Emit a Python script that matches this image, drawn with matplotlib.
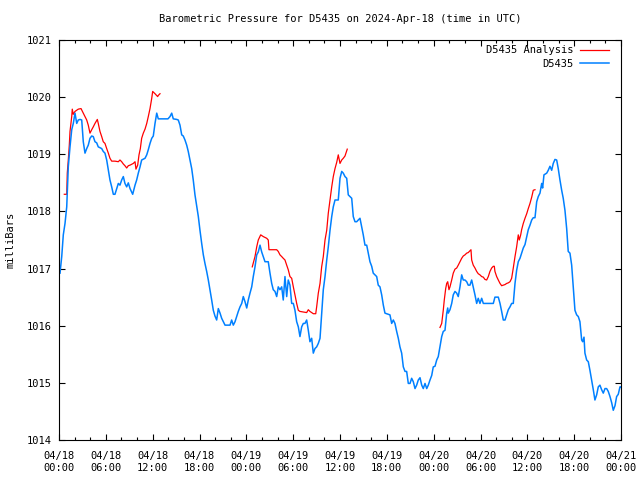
import numpy as np
import matplotlib
matplotlib.use("Agg")
from matplotlib import pyplot as plt
import matplotlib.dates as mdates

plt.rcParams['font.family'] = ['DejaVu Sans Mono']
plt.rcParams['font.size'] = 7.5

start = np.datetime64('2024-04-18T00:00')

# station observations, hours since start
obs_hours = [0.13, 0.35, 0.55, 0.77, 0.99, 1.19, 1.41, 1.63, 1.83, 2.05, 2.27, 2.47, 2.69, 2.91, 3.11, 3.33, 3.55,
             3.75, 3.97, 4.19, 4.39, 4.61, 4.83, 5.03, 5.47, 5.67, 5.89, 6.11, 6.32, 6.53, 6.75, 6.96, 7.17, 7.39,
             7.60, 7.81, 8.03, 8.24, 8.45, 8.67, 8.88, 9.10, 9.31, 9.44, 9.74, 9.95, 10.16, 10.38, 10.59, 11.02,
             11.24, 11.44, 11.66, 11.88, 12.08, 12.30, 12.52, 12.72, 13.20, 13.96, 14.22, 14.44, 14.64, 15.08,
             15.28, 15.50, 15.72, 15.92, 16.14, 16.36, 16.56, 16.78, 17.00, 17.20,
             17.42, 17.85, 18.06, 18.28, 18.49, 18.70, 18.92, 19.13, 19.34, 19.56, 19.77, 19.98, 20.20, 20.41,
             20.63, 20.84, 21.27, 21.91, 22.12, 22.33, 22.55, 22.76, 22.97, 23.19, 23.41, 23.61, 23.83, 24.05,
             24.25, 24.47, 24.69, 24.89, 25.11, 25.33, 25.53, 25.75, 25.97, 26.17, 26.39, 26.61, 26.81, 27.03,
             27.25, 27.45, 27.67, 27.89, 28.09, 28.31, 28.53, 28.73, 28.95, 29.17, 29.37, 29.59, 29.81, 30.02,
             30.23, 30.45, 30.66, 30.87, 31.09, 31.30, 31.51, 31.73, 31.94, 32.15, 32.37, 32.58, 32.79, 33.01,
             33.22, 33.44, 33.65, 33.86, 34.08, 34.30, 34.50, 34.72, 34.94, 35.14,
             35.36, 35.78, 36.00, 36.22, 36.42, 36.64, 36.86, 37.06, 37.28, 37.50, 37.70, 37.92, 38.14, 38.34,
             38.56, 38.78, 38.98, 39.20, 39.42, 39.62, 39.84, 40.06, 40.26, 40.48, 40.70, 40.90, 41.12, 41.34,
             41.55, 41.76, 41.98, 42.19, 42.40, 42.62, 42.83, 43.04, 43.26, 43.47,
             43.68, 43.90, 44.11, 44.33, 44.54, 44.75, 44.97, 45.18, 45.39, 45.61, 45.82, 46.03, 46.25, 46.47,
             46.67, 46.89, 47.11, 47.31, 47.53, 47.75, 47.95, 48.17, 48.39, 48.59, 48.81, 49.03, 49.23, 49.45,
             49.67, 49.80, 49.87, 50.09, 50.31, 50.51, 50.73, 50.95, 51.15, 51.37, 51.59, 51.79, 52.01, 52.23,
             52.43, 52.65, 52.87, 53.07, 53.29, 53.51, 53.71, 53.93, 54.15, 54.36, 55.64, 55.85, 56.28, 56.50,
             56.71, 56.92, 57.14, 57.35, 57.56, 57.78, 57.99, 58.20, 58.42, 58.63, 58.84, 59.06, 59.27, 59.48,
             59.70, 59.92, 60.12, 60.34, 60.56, 60.76, 60.98, 61.20, 61.40, 61.62, 61.84, 61.96, 62.13, 62.48,
             62.68, 62.90, 63.12, 63.32, 63.54, 63.76, 63.96, 64.18, 64.40, 64.60, 64.82, 65.04, 65.24, 65.46,
             65.68, 65.88, 66.10, 66.32, 66.53, 66.74, 66.96, 67.09, 67.26, 67.38, 67.60, 67.81, 68.02, 68.24,
             68.45, 68.66, 68.88, 69.09, 69.30, 69.52, 69.73, 69.95, 70.16, 70.37, 70.59, 70.81, 71.01, 71.23,
             71.44, 71.65, 71.87, 71.96]
obs_mb = [1016.92, 1017.21, 1017.59, 1017.79, 1018.08, 1018.78, 1019.13, 1019.43, 1019.54, 1019.72, 1019.54, 1019.6,
          1019.61, 1019.6, 1019.22, 1019.02, 1019.1, 1019.16, 1019.28, 1019.32, 1019.31, 1019.22, 1019.2, 1019.13,
          1019.1, 1019.05, 1019.02, 1018.9, 1018.72, 1018.55, 1018.43, 1018.3, 1018.3, 1018.4, 1018.49, 1018.46,
          1018.55, 1018.61, 1018.49, 1018.43, 1018.5, 1018.4, 1018.34, 1018.3, 1018.46, 1018.55, 1018.67, 1018.78,
          1018.9, 1018.93, 1018.99, 1019.08, 1019.19, 1019.28, 1019.32, 1019.54, 1019.72, 1019.62, 1019.62, 1019.62,
          1019.66, 1019.72, 1019.62, 1019.61, 1019.6, 1019.51, 1019.34, 1019.32, 1019.25, 1019.16, 1019.05, 1018.9,
          1018.75, 1018.55,
          1018.29, 1017.91, 1017.67, 1017.44, 1017.24, 1017.09, 1016.95, 1016.8, 1016.63, 1016.45, 1016.27, 1016.17,
          1016.1, 1016.3, 1016.22, 1016.13, 1016.01, 1016.01, 1016.1, 1016.01, 1016.07, 1016.16, 1016.25, 1016.33,
          1016.39, 1016.51, 1016.42, 1016.31, 1016.45, 1016.57, 1016.68, 1016.86, 1017.03, 1017.24, 1017.29, 1017.41,
          1017.29, 1017.21, 1017.12, 1017.12, 1017.12, 1016.92, 1016.74, 1016.63, 1016.6, 1016.51, 1016.68, 1016.63,
          1016.68, 1016.45, 1016.86, 1016.51, 1016.8, 1016.71, 1016.39, 1016.39, 1016.27, 1016.07, 1015.98, 1015.81,
          1015.98, 1016.04, 1016.04, 1016.1, 1015.92, 1015.72, 1015.78, 1015.52, 1015.6, 1015.63, 1015.69, 1015.78,
          1016.22, 1016.63, 1016.86, 1017.15, 1017.38, 1017.67, 1017.91, 1018.08,
          1018.2, 1018.2, 1018.58, 1018.7, 1018.67, 1018.61, 1018.58, 1018.29, 1018.26, 1018.23, 1017.91, 1017.82,
          1017.82, 1017.85, 1017.88, 1017.73, 1017.59, 1017.41, 1017.41, 1017.27, 1017.12, 1017.04, 1016.92, 1016.89,
          1016.86, 1016.71, 1016.68, 1016.54, 1016.36, 1016.22, 1016.21, 1016.2, 1016.19, 1016.04, 1016.1, 1016.04,
          1015.9, 1015.78,
          1015.63, 1015.52, 1015.28, 1015.2, 1015.2, 1014.99, 1014.99, 1015.08, 1015.02, 1014.9, 1014.96, 1015.05,
          1015.09, 1014.96, 1014.9, 1014.99, 1014.9, 1014.96, 1015.05, 1015.13, 1015.28, 1015.29, 1015.4, 1015.46,
          1015.63, 1015.81, 1015.9, 1015.92, 1016.22, 1016.31, 1016.22, 1016.28, 1016.39, 1016.54, 1016.6, 1016.57,
          1016.51, 1016.68, 1016.89, 1016.8, 1016.8, 1016.77, 1016.71, 1016.71, 1016.8, 1016.68, 1016.54, 1016.39,
          1016.48, 1016.39, 1016.48, 1016.39, 1016.39, 1016.5, 1016.5, 1016.39, 1016.25, 1016.1, 1016.1, 1016.19,
          1016.28, 1016.33, 1016.39, 1016.39, 1016.74, 1016.97, 1017.12, 1017.18, 1017.27, 1017.36, 1017.42,
          1017.56, 1017.68, 1017.76, 1017.85, 1017.89, 1017.89, 1018.17, 1018.26, 1018.32, 1018.49, 1018.41,
          1018.64, 1018.67, 1018.72, 1018.79, 1018.72, 1018.84, 1018.91, 1018.9, 1018.75, 1018.55, 1018.37,
          1018.23, 1018.02, 1017.7, 1017.3, 1017.27, 1017.06, 1016.68, 1016.27, 1016.19, 1016.16, 1016.07,
          1015.75, 1015.72, 1015.8, 1015.52, 1015.4, 1015.37, 1015.22, 1015.05, 1014.88, 1014.7, 1014.79,
          1014.93, 1014.96, 1014.88, 1014.82, 1014.9, 1014.9, 1014.85, 1014.76, 1014.65, 1014.52, 1014.6,
          1014.76, 1014.8, 1014.93, 1014.93]

# analysis runs (three separate pieces)
ana1_hours = [0.68, 0.99, 1.06, 1.19, 1.32, 1.41, 1.63, 1.70, 1.83, 2.05, 2.47, 2.82, 3.11, 3.33, 3.55, 3.75, 3.97,
              4.19, 4.39, 4.61, 4.91, 5.03, 5.25, 5.47, 5.67, 5.89, 6.11, 6.32, 6.53, 6.75, 7.17, 7.60, 7.81, 8.03,
              8.24, 8.45, 8.67, 8.88, 9.10, 9.52, 9.74, 9.86, 10.08, 10.25, 10.42, 10.59, 10.80, 11.02, 11.24,
              11.44, 11.66, 11.88, 12.00, 12.30, 12.64, 12.72, 12.94]
ana1_mb = [1018.3, 1018.3, 1018.67, 1018.9, 1019.16, 1019.4, 1019.66, 1019.79, 1019.7, 1019.75, 1019.79, 1019.8,
           1019.72, 1019.66, 1019.6, 1019.51, 1019.37, 1019.43, 1019.48, 1019.54, 1019.61, 1019.54, 1019.4, 1019.31,
           1019.22, 1019.19, 1019.1, 1019.02, 1018.93, 1018.88, 1018.88, 1018.87, 1018.9, 1018.87, 1018.83, 1018.8,
           1018.76, 1018.8, 1018.81, 1018.84, 1018.87, 1018.74, 1018.81, 1018.99, 1019.1, 1019.28, 1019.37,
           1019.44, 1019.54, 1019.66, 1019.8, 1019.98, 1020.1, 1020.06, 1020.01, 1020.03, 1020.06]
ana2_hours = [24.76, 25.11, 25.33, 25.53, 25.84, 26.17, 26.61, 26.81, 26.90, 27.25, 27.89, 28.09, 28.31, 28.53, 28.73,
              28.95, 29.17, 29.37, 29.59, 29.81, 30.02, 30.23, 30.45, 30.66, 30.87, 31.30, 31.73, 31.94, 32.15,
              32.37, 32.58, 32.89, 33.01, 33.22, 33.44, 33.65, 33.86, 34.08, 34.30, 34.50, 34.72, 34.94, 35.14,
              35.36, 35.58, 35.78, 36.00, 36.22, 36.42, 36.64, 36.93]
ana2_mb = [1017.03, 1017.21, 1017.38, 1017.5, 1017.59, 1017.56, 1017.53, 1017.5, 1017.33, 1017.33, 1017.33, 1017.3,
           1017.24, 1017.21, 1017.18, 1017.15, 1017.06, 1016.98, 1016.86, 1016.83, 1016.68, 1016.54, 1016.39,
           1016.27, 1016.25, 1016.24, 1016.23, 1016.28, 1016.25, 1016.23, 1016.21, 1016.21, 1016.33, 1016.57,
           1016.74, 1017.03, 1017.21, 1017.5, 1017.67, 1017.97, 1018.2, 1018.43, 1018.61, 1018.75, 1018.86,
           1018.99, 1018.84, 1018.9, 1018.93, 1018.97, 1019.09]
ana3_hours = [48.81, 49.03, 49.23, 49.36, 49.54, 49.67, 49.80, 49.96, 50.09, 50.31, 50.51, 50.73, 50.95, 51.15, 51.37,
              51.59, 51.79, 52.01, 52.23, 52.43, 52.78, 52.87, 53.07, 53.29, 53.51, 53.71, 53.93, 54.15, 54.36,
              54.57, 54.79, 55.00, 55.21, 55.43, 55.64, 55.77, 55.85, 56.07, 56.28, 56.50, 56.71, 56.92, 57.14,
              57.35, 57.56, 57.78, 57.99, 58.20, 58.42, 58.63, 58.84, 58.97, 59.15, 59.27, 59.48, 59.70, 59.92,
              60.12, 60.34, 60.56, 60.76, 60.98]
ana3_mb = [1015.97, 1016.04, 1016.27, 1016.45, 1016.65, 1016.74, 1016.77, 1016.63, 1016.68, 1016.8, 1016.92, 1016.99,
           1017.01, 1017.06, 1017.12, 1017.18, 1017.22, 1017.24, 1017.27, 1017.28, 1017.33, 1017.15, 1017.06,
           1017.01, 1016.95, 1016.91, 1016.89, 1016.86, 1016.85, 1016.81, 1016.8, 1016.86, 1016.95, 1017.01,
           1017.04, 1017.04, 1016.95, 1016.86, 1016.8, 1016.74, 1016.7, 1016.71, 1016.72, 1016.74, 1016.75,
           1016.77, 1016.83, 1017.01, 1017.21, 1017.38, 1017.59, 1017.5, 1017.59, 1017.68, 1017.79, 1017.88,
           1017.96, 1018.05, 1018.14, 1018.25, 1018.37, 1018.38]


def to_time(hours):
    return start + (np.array(hours) * 3600).astype('timedelta64[s]')


fig = plt.figure(figsize=(6.4, 4.8), dpi=100)
ax = fig.add_axes([59 / 640, 40 / 480, 562 / 640, 400 / 480])

red = '#ff0000'
blue = '#0080ff'
ax.plot(to_time(ana1_hours), ana1_mb, color=red, lw=0.9, label='D5435 Analysis')
ax.plot(to_time(ana2_hours), ana2_mb, color=red, lw=0.9)
ax.plot(to_time(ana3_hours), ana3_mb, color=red, lw=0.9)
ax.plot(to_time(obs_hours), obs_mb, color=blue, lw=1.1, label='D5435')

ax.set_xlim(start, start + np.timedelta64(72, 'h'))
ax.set_ylim(1014, 1021)
ax.set_yticks(range(1014, 1022))
ax.xaxis.set_major_locator(mdates.HourLocator(byhour=range(0, 24, 6)))
ax.xaxis.set_minor_locator(mdates.HourLocator(byhour=range(0, 24, 2)))
ax.xaxis.set_major_formatter(mdates.DateFormatter('%m/%d\n%H:%M'))
ax.tick_params(which='both', direction='in', top=True, right=True, width=0.8, colors='black')
ax.tick_params(which='major', length=4, pad=5)
ax.tick_params(which='minor', length=2.2)
ax.tick_params(axis='x', which='major', pad=8)
for s in ax.spines.values():
    s.set_linewidth(0.8)

ax.legend(loc='upper right', bbox_to_anchor=(1 - 5 / 562, 1 + 2 / 400), frameon=False, markerfirst=False,
          handlelength=2.8, handletextpad=0.6, labelspacing=0.35, borderaxespad=0.4, borderpad=0.3)

fig.text(340 / 640, 1 - 19 / 480, 'Barometric Pressure for D5435 on 2024-Apr-18 (time in UTC)',
         ha='center', va='center')
fig.text(11 / 640, 0.5, 'milliBars', rotation=90, ha='center', va='center')

fig.savefig('out.png', dpi=100)
